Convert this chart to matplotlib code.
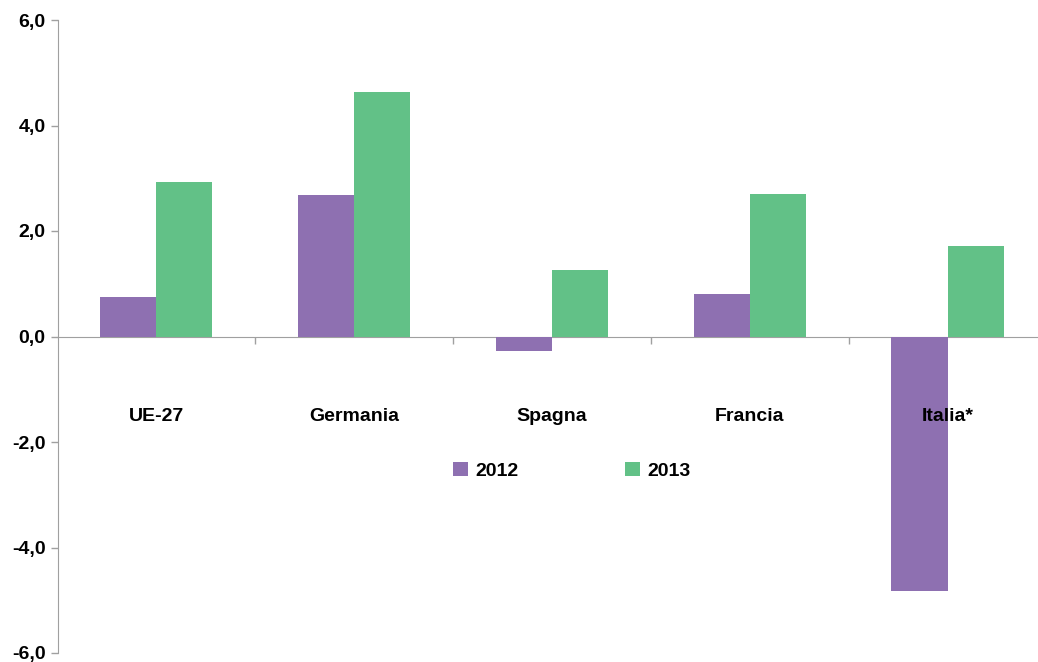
import numpy as np
import matplotlib.pyplot as plt

plt.rcParams['font.family'] = ['Liberation Sans', 'DejaVu Sans']

paesi = ['UE-27', 'Germania', 'Spagna', 'Francia', 'Italia*']
v2012 = [0.74, 2.69, -0.28, 0.80, -4.82]
v2013 = [2.92, 4.63, 1.27, 2.71, 1.71]
anni = ['2012', '2013']

c12 = '#8E70B1'
c13 = '#62C187'

fig = plt.figure(figsize=(10.38, 6.62), dpi=100)
ax = fig.add_axes([58/1038, 9/662, 1 - 58/1038, (653-20)/662])

x = np.arange(len(paesi))
w = 0.285
ax.bar(x - w/2, v2012, w, color=c12, label=anni[0], zorder=3)
ax.bar(x + w/2, v2013, w, color=c13, label=anni[1], zorder=3)

ax.set_ylim(-6, 6)
ax.set_xlim(-0.495, 4.455)
ax.set_yticks(np.arange(-6, 7, 2))
ax.set_yticklabels([('%.1f' % v).replace('.', ',') for v in np.arange(-6, 7, 2)],
                   fontsize=14, fontweight='bold')
ax.set_xticks(x[:-1] + 0.5)
ax.set_xticklabels([])

for s in ['top', 'right']:
    ax.spines[s].set_visible(False)
ax.spines['bottom'].set_position(('data', 0))
ax.spines['bottom'].set_color('#A0A0A0')
ax.spines['left'].set_color('#A0A0A0')
ax.tick_params(axis='y', colors='#A0A0A0', labelcolor='black', length=5, width=1, pad=4)
ax.tick_params(axis='x', colors='#A0A0A0', length=5, width=1)

for i, p in enumerate(paesi):
    ax.text(i, -1.52, p, ha='center', va='center', fontsize=14, fontweight='bold', zorder=5)

ax.legend(loc='center', bbox_to_anchor=(572/1038, 1 - 471/662), bbox_transform=fig.transFigure,
          ncol=2, frameon=False, columnspacing=5.5, handlelength=0.75, handleheight=0.75,
          handletextpad=0.4, prop={'weight': 'bold', 'size': 14})

fig.savefig('out.png', dpi=100)
